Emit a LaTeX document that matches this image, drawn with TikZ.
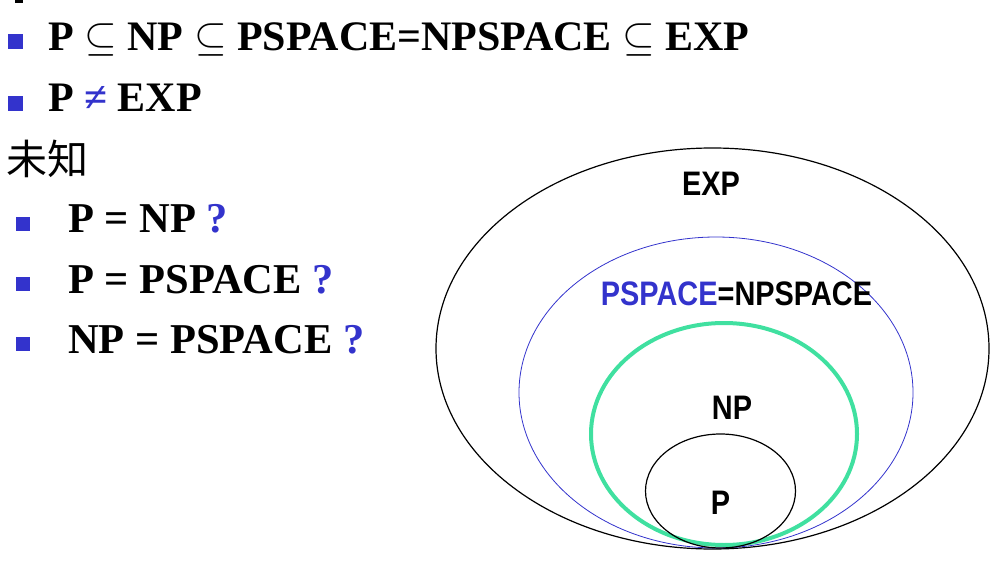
\documentclass[tikz,border=0pt]{standalone}
\usepackage{fix-cm}
\usepackage{fontspec}
\setmainfont{Liberation Serif}
\newfontfamily\lsans{Liberation Sans}
\newfontfamily\cjk{Noto Sans CJK SC}
\usetikzlibrary{shapes.geometric}
\definecolor{pblue}{RGB}{51,51,204}
\definecolor{mint}{RGB}{64,224,160}
\tikzset{
  bul/.style={fill=pblue, draw=none, inner sep=0pt, minimum size=15pt, anchor=north west},
  txt/.style={anchor=base west, inner sep=0pt, font=\fontsize{42}{42}\selectfont\bfseries},
  lab/.style={anchor=base, inner sep=0pt, font=\fontsize{34}{34}\selectfont\lsans\bfseries},
  set/.style={ellipse, inner sep=0pt, outer sep=0pt}
}
\newcommand{\nx}[1]{\scalebox{0.85}[1]{#1}}
\begin{document}
\begin{tikzpicture}[x=1pt,y=-1pt]
\useasboundingbox (0,0) rectangle (1000,561);
% remnant of a cut-off line
\fill (15,0) rectangle (23,3);
% known facts
\node[bul] (b1) at (8,34) {};
\node[txt] (t1) at (48,51) {P $\subseteq$ NP $\subseteq$ PSPACE=NPSPACE $\subseteq$ EXP};
\node[bul] (b2) at (8,96) {};
\node[txt] (t2) at (48,112) {P {\color{pblue}≠} EXP};
% unknown
\node[anchor=west, inner sep=0pt, font=\fontsize{41}{41}\selectfont\cjk] (unk) at (6,159) {未知};
\node[bul, minimum size=14pt] (b3) at (16,217) {};
\node[txt, font=\fontsize{42.5}{42.5}\selectfont\bfseries] (t3) at (68,233) {P = NP {\color{pblue}?}};
\node[bul, minimum size=14pt] (b4) at (16,277) {};
\node[txt, font=\fontsize{42.5}{42.5}\selectfont\bfseries] (t4) at (68,293) {P = PSPACE {\color{pblue}?}};
\node[bul, minimum size=14pt] (b5) at (16,337) {};
\node[txt, font=\fontsize{42.5}{42.5}\selectfont\bfseries] (t5) at (68,353) {NP = PSPACE {\color{pblue}?}};
% nested sets
\node[set, draw=black, line width=1.2pt, minimum width=553pt, minimum height=401pt] (exp) at (712.5,348.5) {};
\node[set, draw=pblue, line width=0.8pt, minimum width=394pt, minimum height=311pt] (pspace) at (716,392.5) {};
\node[set, draw=mint, line width=4pt, minimum width=266pt, minimum height=222pt] (np) at (724,434) {};
\node[set, draw=black, line width=1.2pt, minimum width=150pt, minimum height=114pt] (p) at (720.5,491) {};
\node[lab] (lexp) at (711,196) {\nx{EXP}};
\node[lab] (lps) at (736.5,305) {\nx{{\color{pblue}PSPACE}=NPSPACE}};
\node[lab] (lnp) at (732,419) {\nx{NP}};
\node[lab] (lp) at (720.5,514) {\nx{P}};
\end{tikzpicture}
\end{document}
